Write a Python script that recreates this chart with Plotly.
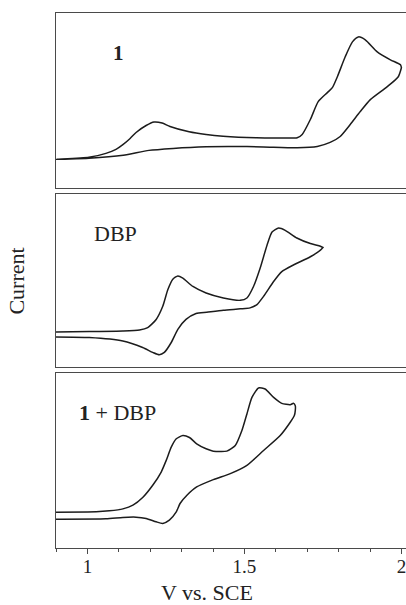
import plotly.graph_objects as go

# ---- data (potential in V vs. SCE, current in arbitrary units) ----
# Panel 1: compound 1
p1_fwd_v = [0.900, 1.005, 1.059, 1.091, 1.114, 1.136, 1.155, 1.187, 1.212, 1.238, 1.263,
            1.324, 1.378, 1.432, 1.538, 1.614, 1.668, 1.684, 1.710, 1.735, 1.764, 1.780,
            1.796, 1.821, 1.844, 1.863, 1.885, 1.923, 1.965, 1.997, 2.000]
p1_fwd_i = [29, 31, 35, 39, 44, 50, 56, 63, 66.5, 65.5, 62,
            56.7, 54, 52.3, 50.7, 50.5, 50.7, 54, 69, 87, 96, 101,
            112, 132, 147, 152, 149, 137, 129, 124, 121]
p1_rev_v = [2.000, 1.990, 1.955, 1.901, 1.869, 1.837, 1.805, 1.773, 1.732, 1.668, 1.560,
            1.455, 1.378, 1.273, 1.196, 1.114, 1.005, 0.900]
p1_rev_i = [121, 112, 102, 89, 77, 64, 52, 46, 42, 40.7, 41.5,
            42, 41.7, 40, 38, 33, 30, 29]

# Panel 2: DBP
p2_fwd_v = [0.900, 1.006, 1.113, 1.166, 1.192, 1.219, 1.240, 1.256, 1.272, 1.288, 1.304,
            1.336, 1.378, 1.433, 1.487, 1.508, 1.529, 1.550, 1.572, 1.588, 1.609, 1.630,
            1.667, 1.710, 1.742, 1.750]
p2_fwd_i = [35.8, 36.2, 36.8, 37.8, 40.2, 48.5, 61.8, 78.5, 89.2, 92.5, 90.2,
            81.8, 75.2, 70.2, 67.8, 70.2, 81.8, 100.2, 123.5, 136.8, 140.8, 138.5,
            130.8, 125.2, 122.5, 121.2]
p2_rev_v = [1.750, 1.742, 1.710, 1.656, 1.619, 1.593, 1.561, 1.540, 1.518, 1.487, 1.433,
            1.380, 1.346, 1.314, 1.288, 1.267, 1.245, 1.229, 1.208, 1.176, 1.113, 1.006, 0.900]
p2_rev_i = [121.2, 118.5, 111.8, 103.5, 96.8, 86.8, 71.8, 63.5, 60.2, 59.2, 57.8,
            55.8, 54.5, 48.5, 38.5, 25.2, 15.2, 12.8, 15.2, 20.2, 26.8, 30.2, 30.8]

# Panel 3: 1 + DBP
p3_fwd_v = [0.900, 1.028, 1.070, 1.113, 1.145, 1.176, 1.208, 1.235, 1.251, 1.267, 1.283,
            1.304, 1.325, 1.348, 1.378, 1.401, 1.444, 1.471, 1.492, 1.508, 1.524, 1.545,
            1.566, 1.593, 1.619, 1.646, 1.656, 1.662]
p3_fwd_i = [36, 36.3, 37.3, 39.3, 43, 50.7, 63, 76.3, 88, 101.3, 109.7,
            113, 111, 104.7, 99.7, 97.3, 97.3, 103, 118, 134.7, 151.3, 160.7,
            159.7, 151.3, 145.3, 144, 145.3, 143]
p3_rev_v = [1.662, 1.659, 1.646, 1.614, 1.561, 1.508, 1.455, 1.401, 1.348, 1.317, 1.295,
            1.283, 1.261, 1.240, 1.219, 1.187, 1.155, 1.113, 1.059, 0.900]
p3_rev_i = [138, 133, 126.3, 113, 98, 83, 74.7, 68.7, 61.3, 53, 44.7,
            36.3, 28, 24.7, 26.3, 29.7, 31, 30.7, 29.3, 29]

panel_labels = ["<b>1</b>", "DBP", "<b>1</b> + DBP"]
x_tickvals = [1, 1.5, 2]
x_ticktext = ["1", "1.5", "2"]
x_minor_tickvals = [0.9, 1.1, 1.2, 1.3, 1.4, 1.6, 1.7, 1.8, 1.9]
x_title = "V vs. SCE"
y_title = "Current"

# ---- figure ----
FONT = "Liberation Serif, Times New Roman, serif"
LINE_C = "#1c1c1c"
FRAME_C = "#4a4a4a"
TXT_C = "#222"
XR = [0.9, 2.0146]

# plot area: pixel 13 .. 548 (535 px tall)
panels = [
    (p1_fwd_v + p1_rev_v, p1_fwd_i + p1_rev_i, [0.6725, 1.0], [0, 176]),
    (p2_fwd_v + p2_rev_v, p2_fwd_i + p2_rev_i, [0.3375, 0.6622], [0, 175.5]),
    (p3_fwd_v + p3_rev_v, p3_fwd_i + p3_rev_i, [0.0, 0.3275], [0, 176]),
]

fig = go.Figure()
layout = dict(
    width=406, height=605,
    margin=dict(l=56, r=0, t=13, b=57),
    paper_bgcolor="white", plot_bgcolor="white",
    showlegend=False,
    font=dict(family=FONT, size=18, color=TXT_C),
)

for k, (xs, ys, dom, yr) in enumerate(panels):
    n = k + 1
    xa = "x" if n == 1 else f"x{n}"
    ya = "y" if n == 1 else f"y{n}"
    fig.add_trace(go.Scatter(x=xs, y=ys, mode="lines", xaxis=xa, yaxis=ya,
                             line=dict(color=LINE_C, width=1.5, shape="spline", smoothing=0.6),
                             hoverinfo="skip"))
    xkey = "xaxis" if n == 1 else f"xaxis{n}"
    ykey = "yaxis" if n == 1 else f"yaxis{n}"
    xd = dict(domain=[0, 1], range=XR, anchor=ya, showgrid=False, zeroline=False,
              showline=True, mirror=True, linecolor=FRAME_C, linewidth=1.3,
              fixedrange=True)
    if n == 3:
        xd.update(ticks="outside", ticklen=5, tickwidth=1.2, tickcolor=FRAME_C,
                  tickvals=x_tickvals, ticktext=x_ticktext, ticklabelstandoff=-4,
                  ticklabeloverflow="allow",
                  tickfont=dict(family=FONT, size=19, color=TXT_C),
                  minor=dict(tickvals=x_minor_tickvals, ticks="outside", ticklen=3,
                             tickwidth=1.2, tickcolor=FRAME_C))
    else:
        xd.update(showticklabels=False, ticks="", matches="x3")
    layout[xkey] = xd
    layout[ykey] = dict(domain=dom, range=yr, anchor=xa, showgrid=False, zeroline=False,
                        showline=True, mirror=False, linecolor=FRAME_C, linewidth=1.3,
                        showticklabels=False, ticks="", fixedrange=True)

fig.update_layout(**layout)

fig.add_annotation(text=panel_labels[0], xref="x", yref="y", x=1.1, y=136,
                   showarrow=False, font=dict(family=FONT, size=21, color=TXT_C))
fig.add_annotation(text=panel_labels[1], xref="x2", yref="y2", x=1.09, y=135.5,
                   showarrow=False, font=dict(family=FONT, size=22, color=TXT_C))
fig.add_annotation(text=panel_labels[2], xref="x3", yref="y3", x=0.966, y=136,
                   xanchor="left", showarrow=False, font=dict(family=FONT, size=22, color=TXT_C))

fig.add_annotation(text=y_title, xref="paper", yref="paper", x=-0.112, y=0.4995,
                   textangle=-90, showarrow=False, xanchor="center", yanchor="middle",
                   font=dict(family=FONT, size=22, color=TXT_C))
fig.add_annotation(text=x_title, xref="paper", yref="paper", x=0.43, y=-0.0828,
                   showarrow=False, xanchor="center", yanchor="middle",
                   font=dict(family=FONT, size=22, color=TXT_C))

fig.write_html("out.html")
